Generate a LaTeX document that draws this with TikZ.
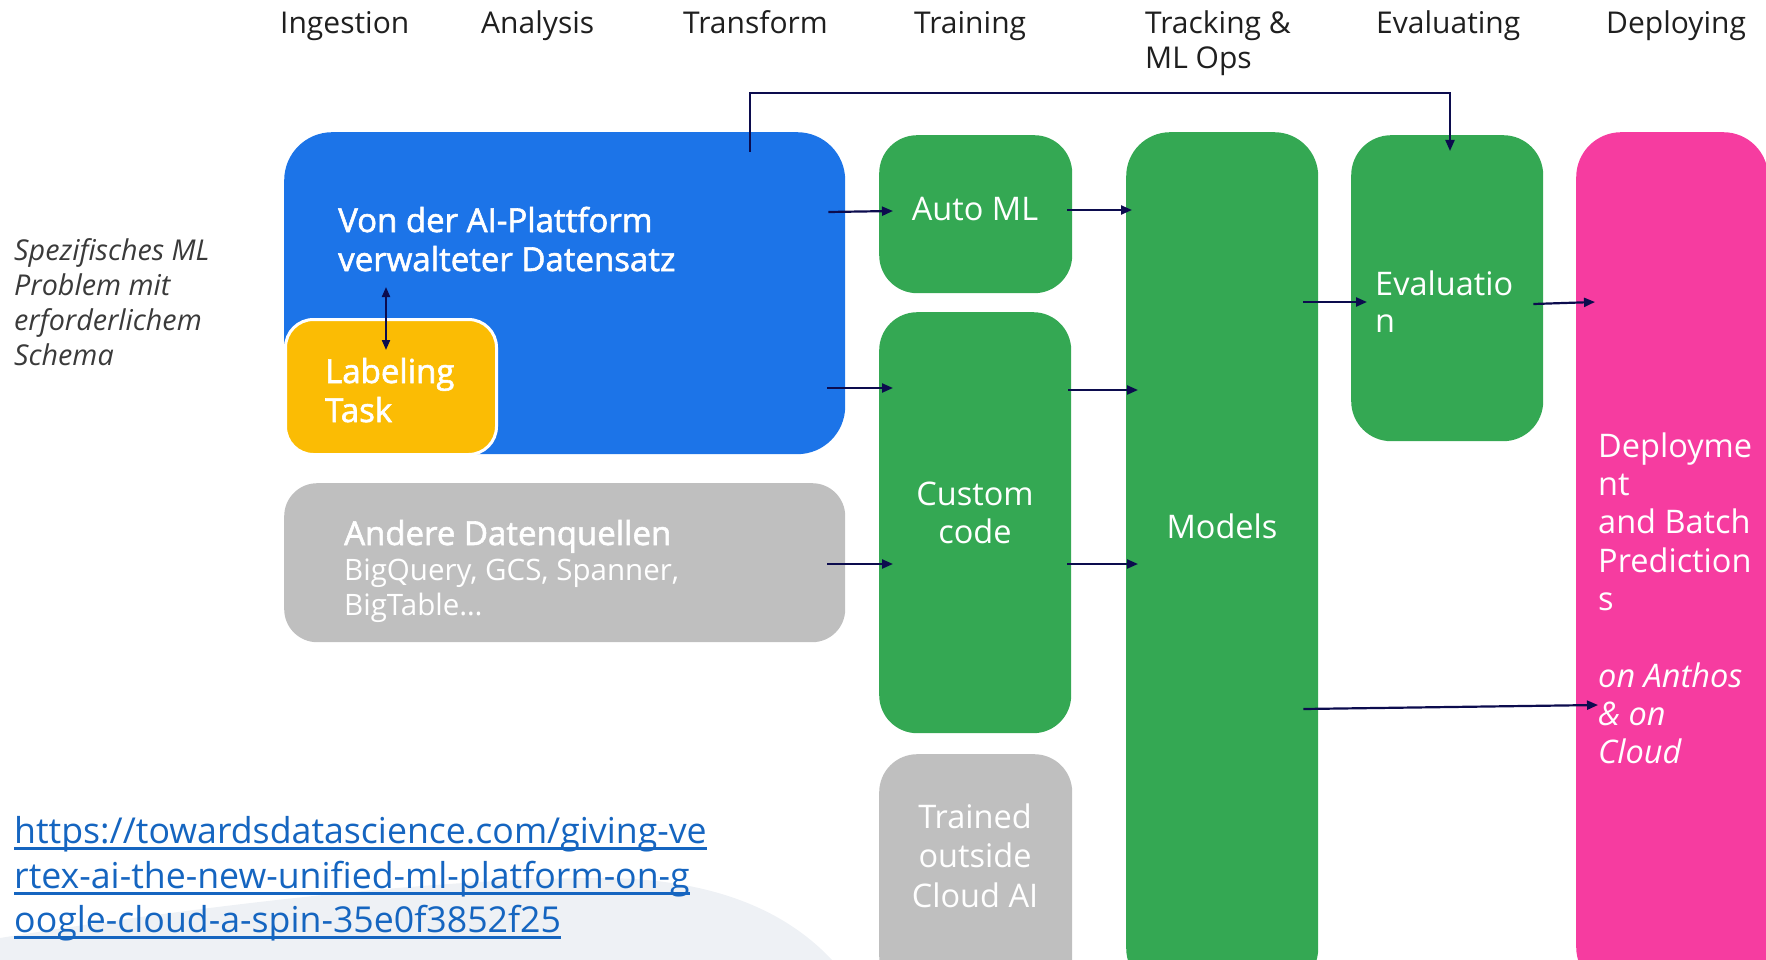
\documentclass[tikz,border=0pt]{standalone}
\usepackage{fontspec}
\setmainfont{Open Sans}
\newfontfamily\semib[FakeBold=1.8]{Open Sans}
\usetikzlibrary{arrows.meta}

\definecolor{gblue}{HTML}{1C74E8}
\definecolor{ggreen}{HTML}{34A853}
\definecolor{gyellow}{HTML}{FBBC04}
\definecolor{gpink}{HTML}{F63CA0}
\definecolor{ggray}{HTML}{BFBFBF}
\definecolor{navy}{HTML}{0C0C4E}
\definecolor{linkblue}{HTML}{1565C0}
\definecolor{wave}{HTML}{EEF1F5}
\definecolor{headtext}{HTML}{1F1F1F}
\definecolor{sidetext}{HTML}{3A3A3A}

\begin{document}
\begin{tikzpicture}[x=1pt,y=-1pt,
  box/.style={draw=none, rounded corners=#1, inner sep=0pt, anchor=north west},
  txt/.style={inner sep=0pt, anchor=base west, text=white, font=\fontsize{32.5pt}{38pt}\selectfont},
  sbtxt/.style={txt, font=\fontsize{33pt}{38pt}\semib},
  ctxt/.style={txt, anchor=base},
  head/.style={inner sep=0pt, anchor=base west, text=headtext, font=\fontsize{30pt}{35pt}\selectfont},
  side/.style={inner sep=0pt, anchor=base west, text=sidetext, font=\fontsize{28.7pt}{35pt}\selectfont\itshape},
  linkline/.style={inner sep=0pt, anchor=base west, text=linkblue, font=\fontsize{35.7pt}{44pt}\selectfont},
  arr/.style={draw=navy, line width=2.2pt, -{Triangle[length=11pt,width=9pt]}},
]
\useasboundingbox (0,0) rectangle (1766,960);
\clip (0,0) rectangle (1766,960);

% pale background wave behind the link
\fill[wave] (0,960) -- (0,938) .. controls (160,912) and (420,878) .. (600,878)
  .. controls (720,878) and (790,915) .. (832,960) -- cycle;

% column headers
\node[head] (hIng) at (280,34) {Ingestion};
\node[head] (hAna) at (481,34) {Analysis};
\node[head] (hTra) at (683,34) {Transform};
\node[head] (hTrn) at (914,34) {Training};
\node[head] (hTrk) at (1145,34) {Tracking \&};
\node[head] (hOps) at (1145,69) {ML Ops};
\node[head] (hEva) at (1376,34) {Evaluating};
\node[head] (hDep) at (1606,34) {Deploying};

% side note
\node[side] (s1) at (14,260) {Spezifisches ML};
\node[side] (s2) at (14,295) {Problem mit};
\node[side] (s3) at (14,330) {erforderlichem};
\node[side] (s4) at (14,365) {Schema};

% boxes
\node[box=48, fill=gblue, minimum width=561pt, minimum height=322pt] (blue) at (284,132) {};
\node[box=28, fill=gyellow, draw=white, line width=3pt, minimum width=211pt, minimum height=135pt] (label) at (284,318) {};
\node[box=33, fill=ggray, minimum width=561pt, minimum height=159pt] (gray) at (284,483) {};
\node[box=38, fill=ggreen, minimum width=193pt, minimum height=158pt] (automl) at (879,135) {};
\node[box=38, fill=ggreen, minimum width=192pt, minimum height=421pt] (custom) at (879,312) {};
\node[box=38, fill=ggray, minimum width=193pt, minimum height=240pt] (trained) at (879,754) {};
\node[box=44, fill=ggreen, minimum width=192pt, minimum height=860pt] (models) at (1126,132) {};
\node[box=40, fill=ggreen, minimum width=192pt, minimum height=306pt] (evalbox) at (1351,135) {};
\node[box=45, fill=gpink, minimum width=192pt, minimum height=860pt] (pink) at (1576,132) {};

% box texts
\node[sbtxt] (b1) at (338,232) {Von der AI-Plattform};
\node[sbtxt] (b2) at (338,271) {verwalteter Datensatz};
\node[sbtxt] (l1) at (325,383) {Labeling};
\node[sbtxt] (l2) at (325,422) {Task};
\node[sbtxt] (g1) at (344,545) {Andere Datenquellen};
\node[txt, font=\fontsize{29.5pt}{35pt}\selectfont] (g2) at (344,580) {BigQuery, GCS, Spanner,};
\node[txt, font=\fontsize{29.5pt}{35pt}\selectfont] (g3) at (344,615) {BigTable…};
\node[ctxt] (am) at (975,220) {Auto ML};
\node[ctxt] (c1) at (975,505) {Custom};
\node[ctxt] (c2) at (975,543) {code};
\node[ctxt] (md) at (1222,538) {Models};
\node[ctxt] (t1) at (975,828) {Trained};
\node[ctxt] (t2) at (975,867) {outside};
\node[ctxt] (t3) at (975,907) {Cloud AI};
\node[txt] (e1) at (1375,295) {Evaluatio};
\node[txt] (e2) at (1375,332) {n};
\node[txt] (p1) at (1598,457) {Deployme};
\node[txt] (p2) at (1598,495) {nt};
\node[txt] (p3) at (1598,533) {and Batch};
\node[txt] (p4) at (1598,572) {Prediction};
\node[txt] (p5) at (1598,610) {s};
\node[txt] (p6) at (1598,687) {\itshape on Anthos};
\node[txt] (p7) at (1598,725) {\itshape \& on};
\node[txt] (p8) at (1598,763) {\itshape Cloud};

% link
\node[linkline] (u1) at (14,843) {https://towardsdatascience.com/giving-ve};
\node[linkline] (u2) at (14,888) {rtex-ai-the-new-unified-ml-platform-on-g};
\node[linkline] (u3) at (14,932) {oogle-cloud-a-spin-35e0f3852f25};
\foreach \u in {u1,u2,u3}
  \draw[linkblue, line width=3pt] ([yshift=-5pt]\u.base west) -- ([yshift=-5pt]\u.base east);

% connectors
\draw[arr] ([shift={(-17,80)}]blue.north east) -- ([shift={(14,76)}]automl.north west);
\draw[arr] ([shift={(-5,75)}]automl.north east) -- ([shift={(6,78)}]models.north west);
\draw[arr] ([shift={(-18,256)}]blue.north east) -- ([shift={(14,76)}]custom.north west);
\draw[arr] ([shift={(-3,78)}]custom.north east) -- ([shift={(12,258)}]models.north west);
\draw[arr] ([shift={(-18,81)}]gray.north east) -- ([shift={(14,252)}]custom.north west);
\draw[arr] ([shift={(-4,252)}]custom.north east) -- ([shift={(12,432)}]models.north west);
\draw[arr] ([shift={(-15,170)}]models.north east) -- ([shift={(16,167)}]evalbox.north west);
\draw[arr] ([shift={(-10,169)}]evalbox.north east) -- ([shift={(19,170)}]pink.north west);
\draw[arr] ([shift={(-15,577)}]models.north east) -- ([shift={(22,573)}]pink.north west);
\draw[arr, line width=2pt] ([shift={(-95,20)}]blue.north east) -- ++(0,-59)
  -| ([shift={(99,16)}]evalbox.north west);
\draw[draw=navy, line width=2pt, {Triangle[length=10pt,width=8pt]}-{Triangle[length=10pt,width=8pt]}]
  ([shift={(102,155)}]blue.north west) -- ([shift={(102,32)}]label.north west);
\end{tikzpicture}
\end{document}
